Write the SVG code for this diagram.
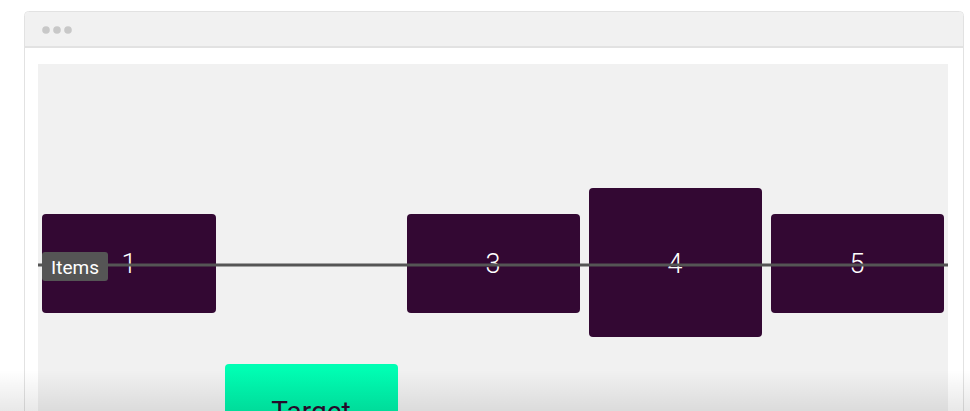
<svg xmlns="http://www.w3.org/2000/svg" width="970" height="411" viewBox="0 0 970 411">
<defs>
<style>
.item{fill:#330833}
.num{fill:#ffffff;font-family:Roboto,"Liberation Sans",sans-serif;font-size:27px;font-weight:300;text-anchor:middle}
.dot{fill:#c8c8c8}
</style>
<linearGradient id="tg" x1="0" y1="0" x2="0" y2="1">
<stop offset="0" stop-color="#00ffb4"/>
<stop offset="1" stop-color="#00e8a2"/>
</linearGradient>
<linearGradient id="shade" x1="0" y1="0" x2="0" y2="1">
<stop offset="0" stop-color="#000" stop-opacity="0"/>
<stop offset="1" stop-color="#000" stop-opacity="0.09"/>
</linearGradient>
</defs>
<rect width="970" height="411" fill="#ffffff"/>
<g id="window">
<rect x="24.5" y="11.5" width="939" height="420" rx="4" fill="#ffffff" stroke="#e2e2e2"/>
<path d="M25 47 V16 a4 4 0 0 1 4 -4 H959 a4 4 0 0 1 4 4 V47 Z" fill="#f1f1f1"/>
<line x1="25" y1="47" x2="963" y2="47" stroke="#e2e2e2" stroke-width="2"/>
<circle class="dot" cx="46" cy="30" r="3.8"/>
<circle class="dot" cx="57" cy="30" r="3.8"/>
<circle class="dot" cx="68" cy="30" r="3.8"/>
<rect x="38" y="64" width="910" height="360" fill="#f1f1f1"/>
</g>
<g id="item1"><rect class="item" x="42" y="214" width="174" height="99" rx="4"/><text class="num" x="129" y="273">1</text></g>
<g id="item3"><rect class="item" x="407" y="214" width="173" height="99" rx="4"/><text class="num" x="493" y="273">3</text></g>
<g id="item4"><rect class="item" x="589" y="188" width="173" height="149" rx="4"/><text class="num" x="675" y="273">4</text></g>
<g id="item5"><rect class="item" x="771" y="214" width="173" height="99" rx="4"/><text class="num" x="857" y="273">5</text></g>
<g id="target"><rect x="225" y="364" width="173" height="80" rx="4" fill="url(#tg)"/><text x="311" y="421" fill="#2a0a2e" font-family="Roboto,'Liberation Sans',sans-serif" font-size="28" text-anchor="middle">Target</text></g>
<g id="connectors">
<line x1="38" y1="265" x2="948" y2="265" stroke="#555555" stroke-width="3"/>
<rect x="42" y="252" width="66" height="29" rx="3" fill="#555555"/>
<text x="75" y="274" fill="#ffffff" font-family="Roboto,'Liberation Sans',sans-serif" font-size="19" text-anchor="middle">Items</text>
</g>
<rect x="0" y="370" width="970" height="41" fill="url(#shade)"/>
</svg>
